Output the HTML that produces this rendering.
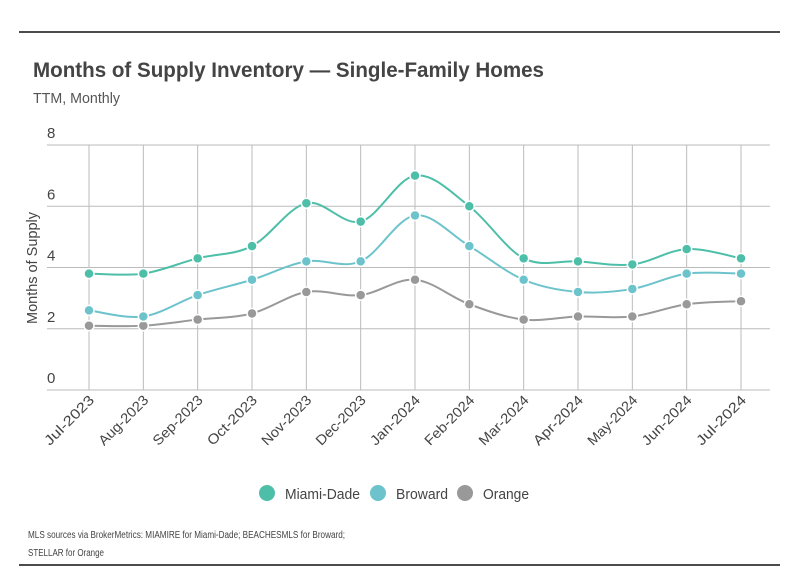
<!DOCTYPE html>
<html><head><meta charset="utf-8"><style>
body{margin:0;background:#fff;width:798px;height:575px;overflow:hidden;font-family:"Liberation Sans",sans-serif;}
svg text{font-family:"Liberation Sans",sans-serif;}
</style></head><body>
<svg id="c" width="798" height="575">
<line x1="19" y1="32" x2="780" y2="32" stroke="#111" stroke-width="1.5"/>
<line x1="19" y1="565" x2="780" y2="565" stroke="#111" stroke-width="1.5"/>
<text x="33" y="77" font-size="21" font-weight="bold" fill="#444" textLength="511" lengthAdjust="spacingAndGlyphs">Months of Supply Inventory — Single-Family Homes</text>
<text x="33" y="103" font-size="15" fill="#555" textLength="87" lengthAdjust="spacingAndGlyphs">TTM, Monthly</text>
<text transform="translate(37,268) rotate(-90)" text-anchor="middle" font-size="15" fill="#444" textLength="112" lengthAdjust="spacingAndGlyphs">Months of Supply</text>
<g id="grid"></g><g id="series"></g>
<g>
<circle cx="267" cy="493" r="8" fill="#4dbfa8"/>
<text x="285" y="499" font-size="15" fill="#444" textLength="75" lengthAdjust="spacingAndGlyphs">Miami-Dade</text>
<circle cx="378" cy="493" r="8" fill="#6cc3cb"/>
<text x="396" y="499" font-size="15" fill="#444" textLength="52" lengthAdjust="spacingAndGlyphs">Broward</text>
<circle cx="465" cy="493" r="8" fill="#999"/>
<text x="483" y="499" font-size="15" fill="#444" textLength="46" lengthAdjust="spacingAndGlyphs">Orange</text>
</g>
<text x="28" y="538" font-size="10" fill="#444" textLength="317" lengthAdjust="spacingAndGlyphs">MLS sources via BrokerMetrics: MIAMIRE for Miami-Dade; BEACHESMLS for Broward;</text>
<text x="28" y="556" font-size="10" fill="#444" textLength="76" lengthAdjust="spacingAndGlyphs">STELLAR for Orange</text>
</svg>
<script>
const categories=["Jul-2023","Aug-2023","Sep-2023","Oct-2023","Nov-2023","Dec-2023","Jan-2024","Feb-2024","Mar-2024","Apr-2024","May-2024","Jun-2024","Jul-2024"];
const miamiDade=[3.8,3.8,4.3,4.7,6.1,5.5,7.0,6.0,4.3,4.2,4.1,4.6,4.3];
const broward=[2.6,2.4,3.1,3.6,4.2,4.2,5.7,4.7,3.6,3.2,3.3,3.8,3.8];
const orange=[2.1,2.1,2.3,2.5,3.2,3.1,3.6,2.8,2.3,2.4,2.4,2.8,2.9];
const yTicks=[0,2,4,6,8];
const NS="http://www.w3.org/2000/svg";
const X0=89,X1=741,Y0=390,Y1=145;
const xs=i=>X0+(X1-X0)*i/(categories.length-1);
const ys=v=>Y0-(Y0-Y1)*v/8;
function mk(t,a,p){const e=document.createElementNS(NS,t);for(const k in a)e.setAttribute(k,a[k]);p.appendChild(e);return e;}
const g=document.getElementById('grid');
yTicks.forEach(t=>{
 const l=mk('line',{x1:47,x2:770,y1:ys(t),y2:ys(t),stroke:'#bbb'},g);
 
 
 const tx=mk('text',{x:47,y:ys(t)-7,'font-size':15,fill:'#444'},g);tx.textContent=t;
 
 
});
categories.forEach((c,i)=>{
 const l=mk('line',{x1:xs(i),x2:xs(i),y1:Y1,y2:Y0,stroke:'#bbb'},g);
 
 
 const tx=mk('text',{transform:`translate(${xs(i)+6},${Y0+11}) rotate(-45)`,'text-anchor':'end','font-size':14,fill:'#444',textLength:64,lengthAdjust:'spacingAndGlyphs'},g);tx.textContent=c;
 
 
});
const sg=document.getElementById('series');
function path(vals){
 const p=vals.map((v,i)=>[xs(i),ys(v)]);let d=`M${p[0][0]},${p[0][1]}`;
 for(let i=0;i<p.length-1;i++){
  const p0=p[i-1]||p[i],p1=p[i],p2=p[i+1],p3=p[i+2]||p2;
  const c1=[p1[0]+(p2[0]-p0[0])/6,p1[1]+(p2[1]-p0[1])/6];
  const c2=[p2[0]-(p3[0]-p1[0])/6,p2[1]-(p3[1]-p1[1])/6];
  d+=`C${c1[0]},${c1[1]} ${c2[0]},${c2[1]} ${p2[0]},${p2[1]}`;
 }return d;}
[[orange,'#999','orange'],[broward,'#6cc3cb','broward'],[miamiDade,'#4dbfa8','miami-dade']].forEach(([vals,col,nm])=>{
 const pl=mk('path',{d:path(vals),fill:'none',stroke:col,'stroke-width':2},sg);
 
 
 vals.forEach((v,i)=>{
  const c=mk('circle',{cx:xs(i),cy:ys(v),r:5,fill:col,stroke:'#fff','stroke-width':1.5},sg);
  
  
 });
});
</script>
</body></html>
